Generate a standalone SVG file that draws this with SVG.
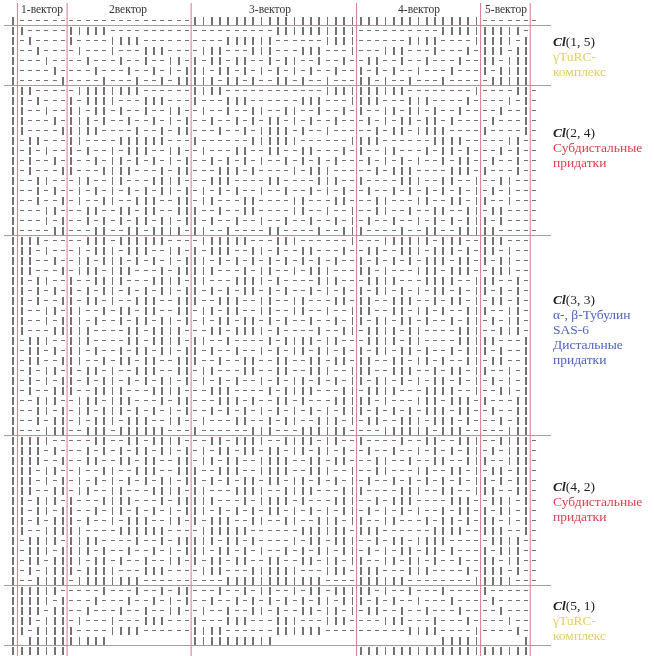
<svg xmlns="http://www.w3.org/2000/svg" width="654" height="656" viewBox="0 0 654 656">
<style>
.g{fill:none;stroke:#fff;mix-blend-mode:difference;shape-rendering:crispEdges}
.dif{mix-blend-mode:difference}
.pk{stroke:#de8296;stroke-width:1.1;fill:none}
.hd{font-family:"Liberation Serif",serif;font-size:11.5px;fill:#333;text-anchor:middle}
.lb{font-family:"Liberation Serif",serif;font-size:13.5px}
.cl{font-weight:bold;font-style:italic;fill:#222}
.k{fill:#222}
.y{fill:#e3cf5e}.r{fill:#d9414f}.b{fill:#4d62c2}
</style>
<defs>
<path id="B" class="g" stroke-width="1.8" stroke-dasharray="8 2" d="M13.335 16.5v640m8.27-640v640m8.27-640v640m8.27-640v640m8.27-640v640m8.27-640v640m8.27-640v640m8.27-640v640m8.27-640v640m8.27-640v640m8.27-640v640m8.27-640v640m8.27-640v640m8.27-640v640m8.27-640v640m8.27-640v640m8.27-640v640m8.27-640v640m8.27-640v640m8.27-640v640m8.27-640v640m8.27-640v640m8.27-640v640m8.27-640v640m8.27-640v640m8.27-640v640m8.27-640v640m8.27-640v640m8.27-640v640m8.27-640v640m8.27-640v640m8.27-640v640m8.27-640v640m8.27-640v640m8.27-640v640m8.27-640v640m8.27-640v640m8.27-640v640m8.27-640v640m8.27-640v640m8.27-640v640m8.27-640v640m8.27-640v640m8.27-640v640m8.27-640v640m8.27-640v640m8.27-640v640m8.27-640v640m8.27-640v640m8.27-640v640m8.27-640v640m8.27-640v640m8.27-640v640m8.27-640v640m8.27-640v640m8.27-640v640m8.27-640v640m8.27-640v640m8.27-640v640m8.27-640v640m8.27-640v640m8.27-640v640m8.27-640v640"/>
<path id="D" class="g" stroke-width="1.3" stroke-dasharray="4 4.27" d="M11.335 20.5h529.28m-529.28 10h529.28m-529.28 10h529.28m-529.28 10h529.28m-529.28 10h529.28m-529.28 10h529.28m-529.28 10h529.28m-529.28 10h529.28m-529.28 10h529.28m-529.28 10h529.28m-529.28 10h529.28m-529.28 10h529.28m-529.28 10h529.28m-529.28 10h529.28m-529.28 10h529.28m-529.28 10h529.28m-529.28 10h529.28m-529.28 10h529.28m-529.28 10h529.28m-529.28 10h529.28m-529.28 10h529.28m-529.28 10h529.28m-529.28 10h529.28m-529.28 10h529.28m-529.28 10h529.28m-529.28 10h529.28m-529.28 10h529.28m-529.28 10h529.28m-529.28 10h529.28m-529.28 10h529.28m-529.28 10h529.28m-529.28 10h529.28m-529.28 10h529.28m-529.28 10h529.28m-529.28 10h529.28m-529.28 10h529.28m-529.28 10h529.28m-529.28 10h529.28m-529.28 10h529.28m-529.28 10h529.28m-529.28 10h529.28m-529.28 10h529.28m-529.28 10h529.28m-529.28 10h529.28m-529.28 10h529.28m-529.28 10h529.28m-529.28 10h529.28m-529.28 10h529.28m-529.28 10h529.28m-529.28 10h529.28m-529.28 10h529.28m-529.28 10h529.28m-529.28 10h529.28m-529.28 10h529.28m-529.28 10h529.28m-529.28 10h529.28m-529.28 10h529.28m-529.28 10h529.28m-529.28 10h529.28m-529.28 10h529.28m-529.28 10h529.28m-529.28 10h529.28"/>
<g id="X"><use href="#B"/><use href="#D"/></g>
<clipPath id="cT"><path transform="matrix(8.27 0 0 1 9.2 0)" d="M0 0h1v700H0z M22 0h35v700H22z"/></clipPath>
<clipPath id="c1"><path transform="matrix(8.27 0 0 1 9.2 0)" d="M1 0h1v700H1z M7 0h5v700H7z M22 0h10v700H22z M42 0h10v700H42z M57 0h5v700H57z M63 0h1v700H63z"/></clipPath>
<clipPath id="r1"><path transform="matrix(0 10 1 0 0 15.5)" d="M1 0h1v700H1z M7 0h5v700H7z M22 0h10v700H22z M42 0h10v700H42z M57 0h5v700H57z M63 0h1v700H63z"/></clipPath>
<clipPath id="c2"><path transform="matrix(8.27 0 0 1 9.2 0)" d="M2 0h1v700H2z M7 0h1v700H7z M12 0h4v700H12z M22 0h4v700H22z M32 0h6v700H32z M42 0h6v700H42z M52 0h4v700H52z M57 0h4v700H57z M62 0h2v700H62z"/></clipPath>
<clipPath id="r2"><path transform="matrix(0 10 1 0 0 15.5)" d="M2 0h1v700H2z M7 0h1v700H7z M12 0h4v700H12z M22 0h4v700H22z M32 0h6v700H32z M42 0h6v700H42z M52 0h4v700H52z M57 0h4v700H57z M62 0h2v700H62z"/></clipPath>
<clipPath id="c3"><path transform="matrix(8.27 0 0 1 9.2 0)" d="M3 0h1v700H3z M8 0h1v700H8z M12 0h1v700H12z M16 0h3v700H16z M22 0h1v700H22z M26 0h3v700H26z M32 0h3v700H32z M38 0h3v700H38z M42 0h3v700H42z M48 0h3v700H48z M52 0h3v700H52z M56 0h4v700H56z M61 0h3v700H61z"/></clipPath>
<clipPath id="r3"><path transform="matrix(0 10 1 0 0 15.5)" d="M3 0h1v700H3z M8 0h1v700H8z M12 0h1v700H12z M16 0h3v700H16z M22 0h1v700H22z M26 0h3v700H26z M32 0h3v700H32z M38 0h3v700H38z M42 0h3v700H42z M48 0h3v700H48z M52 0h3v700H52z M56 0h4v700H56z M61 0h3v700H61z"/></clipPath>
<clipPath id="c4"><path transform="matrix(8.27 0 0 1 9.2 0)" d="M4 0h1v700H4z M9 0h1v700H9z M13 0h1v700H13z M16 0h1v700H16z M19 0h2v700H19z M23 0h1v700H23z M26 0h1v700H26z M29 0h2v700H29z M32 0h1v700H32z M35 0h2v700H35z M38 0h2v700H38z M41 0h2v700H41z M45 0h2v700H45z M48 0h2v700H48z M51 0h3v700H51z M55 0h4v700H55z M60 0h4v700H60z"/></clipPath>
<clipPath id="r4"><path transform="matrix(0 10 1 0 0 15.5)" d="M4 0h1v700H4z M9 0h1v700H9z M13 0h1v700H13z M16 0h1v700H16z M19 0h2v700H19z M23 0h1v700H23z M26 0h1v700H26z M29 0h2v700H29z M32 0h1v700H32z M35 0h2v700H35z M38 0h2v700H38z M41 0h2v700H41z M45 0h2v700H45z M48 0h2v700H48z M51 0h3v700H51z M55 0h4v700H55z M60 0h4v700H60z"/></clipPath>
<clipPath id="c5"><path transform="matrix(8.27 0 0 1 9.2 0)" d="M5 0h1v700H5z M10 0h1v700H10z M14 0h1v700H14z M17 0h1v700H17z M19 0h1v700H19z M21 0h1v700H21z M24 0h1v700H24z M27 0h1v700H27z M29 0h1v700H29z M31 0h1v700H31z M33 0h1v700H33z M35 0h1v700H35z M37 0h2v700H37z M40 0h2v700H40z M43 0h1v700H43z M45 0h1v700H45z M47 0h2v700H47z M50 0h3v700H50z M54 0h4v700H54z M59 0h5v700H59z"/></clipPath>
<clipPath id="r5"><path transform="matrix(0 10 1 0 0 15.5)" d="M5 0h1v700H5z M10 0h1v700H10z M14 0h1v700H14z M17 0h1v700H17z M19 0h1v700H19z M21 0h1v700H21z M24 0h1v700H24z M27 0h1v700H27z M29 0h1v700H29z M31 0h1v700H31z M33 0h1v700H33z M35 0h1v700H35z M37 0h2v700H37z M40 0h2v700H40z M43 0h1v700H43z M45 0h1v700H45z M47 0h2v700H47z M50 0h3v700H50z M54 0h4v700H54z M59 0h5v700H59z"/></clipPath>
<clipPath id="c6"><path transform="matrix(8.27 0 0 1 9.2 0)" d="M6 0h1v700H6z M11 0h1v700H11z M15 0h1v700H15z M18 0h1v700H18z M20 0h2v700H20z M25 0h1v700H25z M28 0h1v700H28z M30 0h2v700H30z M34 0h1v700H34z M36 0h2v700H36z M39 0h3v700H39z M44 0h1v700H44z M46 0h2v700H46z M49 0h3v700H49z M53 0h4v700H53z M58 0h6v700H58z"/></clipPath>
<clipPath id="r6"><path transform="matrix(0 10 1 0 0 15.5)" d="M6 0h1v700H6z M11 0h1v700H11z M15 0h1v700H15z M18 0h1v700H18z M20 0h2v700H20z M25 0h1v700H25z M28 0h1v700H28z M30 0h2v700H30z M34 0h1v700H34z M36 0h2v700H36z M39 0h3v700H39z M44 0h1v700H44z M46 0h2v700H46z M49 0h3v700H49z M53 0h4v700H53z M58 0h6v700H58z"/></clipPath>
</defs>
<g id="matrix" opacity="0.55" style="isolation:isolate">
<rect width="654" height="656" fill="#fff"/>
<use href="#D"/>
<g class="dif" clip-path="url(#cT)"><use href="#X"/></g>
<g class="dif" clip-path="url(#c1)"><g clip-path="url(#r1)"><use href="#X"/></g></g>
<g class="dif" clip-path="url(#c2)"><g clip-path="url(#r2)"><use href="#X"/></g></g>
<g class="dif" clip-path="url(#c3)"><g clip-path="url(#r3)"><use href="#X"/></g></g>
<g class="dif" clip-path="url(#c4)"><g clip-path="url(#r4)"><use href="#X"/></g></g>
<g class="dif" clip-path="url(#c5)"><g clip-path="url(#r5)"><use href="#X"/></g></g>
<g class="dif" clip-path="url(#c6)"><g clip-path="url(#r6)"><use href="#X"/></g></g>
</g>
<g id="gridlines" class="pk">
<path d="M17.47 3V656M67.09 3V656M191.14 3V656M356.54 3V656M480.59 3V656M530.21 3V656"/>
<path d="M4 25.5H551M4 85.5H551M4 235.5H551M4 435.5H551M4 585.5H551M4 645.5H551"/>
</g>
<g id="headers" class="hd">
<text x="42" y="13">1-вектор</text>
<text x="128" y="13">2вектор</text>
<text x="270" y="13">3-вектор</text>
<text x="419" y="13">4-вектор</text>
<text x="506" y="13">5-вектор</text>
</g>
<g id="label1" class="lb">
<text x="553" y="46" class="k"><tspan class="cl">Cl</tspan>(1, 5)</text>
<text x="553" y="61" class="y">γTuRC-</text>
<text x="553" y="76" class="y">комплекс</text>
</g>
<g id="label2" class="lb">
<text x="553" y="137" class="k"><tspan class="cl">Cl</tspan>(2, 4)</text>
<text x="553" y="152" class="r">Субдистальные</text>
<text x="553" y="167" class="r">придатки</text>
</g>
<g id="label3" class="lb">
<text x="553" y="304" class="k"><tspan class="cl">Cl</tspan>(3, 3)</text>
<text x="553" y="319" class="b">α-, β-Тубулин</text>
<text x="553" y="334" class="b">SAS-6</text>
<text x="553" y="349" class="b">Дистальные</text>
<text x="553" y="364" class="b">придатки</text>
</g>
<g id="label4" class="lb">
<text x="553" y="491" class="k"><tspan class="cl">Cl</tspan>(4, 2)</text>
<text x="553" y="506" class="r">Субдистальные</text>
<text x="553" y="521" class="r">придатки</text>
</g>
<g id="label5" class="lb">
<text x="553" y="610" class="k"><tspan class="cl">Cl</tspan>(5, 1)</text>
<text x="553" y="625" class="y">γTuRC-</text>
<text x="553" y="640" class="y">комплекс</text>
</g>
</svg>
